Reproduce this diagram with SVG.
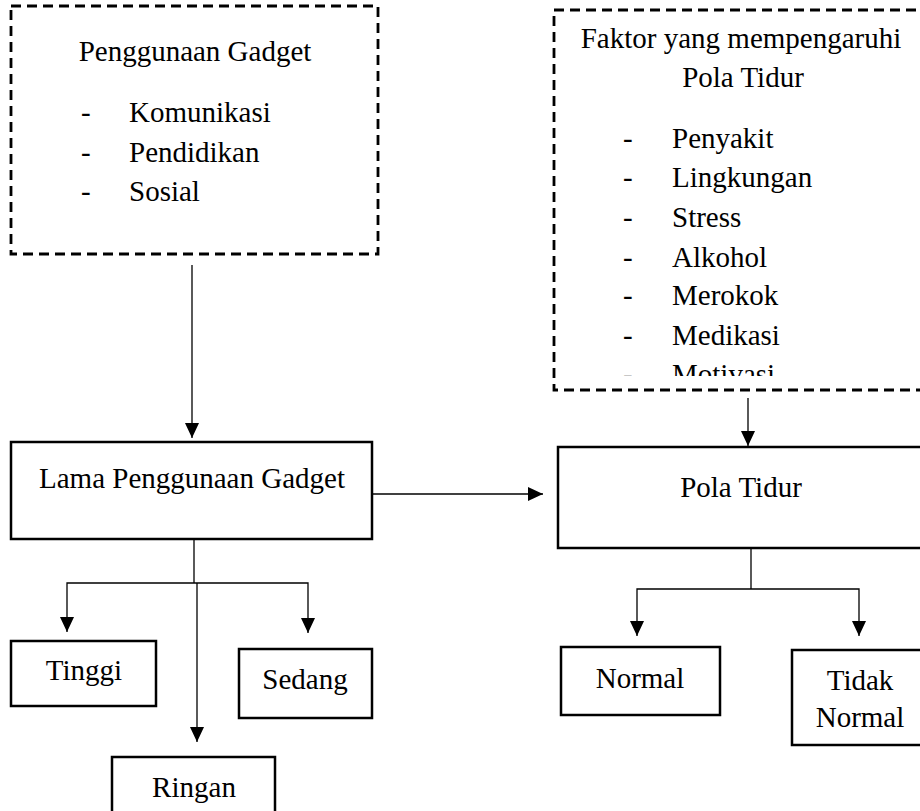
<svg xmlns="http://www.w3.org/2000/svg" width="920" height="811" viewBox="0 0 920 811">
<style>
text{font-family:"Liberation Serif","Times New Roman",serif;font-size:29px;fill:#000}
.c{text-anchor:middle}
.box{fill:#fff;stroke:#000;stroke-width:2.5}
.dash{fill:#fff;stroke:#000;stroke-width:2.8;stroke-dasharray:10 6}
.ln{fill:none;stroke:#000;stroke-width:1.3}
.arr{fill:none;stroke:#000;stroke-width:1.3;marker-end:url(#ah)}
</style>
<defs>
<marker id="ah" viewBox="0 0 15 14" refX="15" refY="7" markerWidth="15" markerHeight="14" markerUnits="userSpaceOnUse" orient="auto">
<path d="M0,0 L15,7 L0,14 z" fill="#000"/>
</marker>
<clipPath id="clipF"><rect x="554" y="10" width="380" height="366"/></clipPath>
</defs>
<rect width="920" height="811" fill="#fff"/>

<g id="penggunaan-gadget">
<rect class="dash" x="11" y="6" width="367" height="248"/>
<text class="c" x="195" y="61">Penggunaan Gadget</text>
<text x="81" y="122">-</text><text x="129" y="122">Komunikasi</text>
<text x="81" y="162">-</text><text x="129" y="162">Pendidikan</text>
<text x="81" y="201">-</text><text x="129" y="201">Sosial</text>
</g>

<g id="faktor">
<rect class="dash" x="554" y="10" width="380" height="380"/>
<text class="c" x="741" y="48">Faktor yang mempengaruhi</text>
<text class="c" x="743" y="87">Pola Tidur</text>
<g clip-path="url(#clipF)">
<text x="623" y="148">-</text><text x="672" y="148">Penyakit</text>
<text x="623" y="187">-</text><text x="672" y="187">Lingkungan</text>
<text x="623" y="227">-</text><text x="672" y="227">Stress</text>
<text x="623" y="267">-</text><text x="672" y="267">Alkohol</text>
<text x="623" y="305">-</text><text x="672" y="305">Merokok</text>
<text x="623" y="345">-</text><text x="672" y="345">Medikasi</text>
<text x="623" y="384">-</text><text x="672" y="384">Motivasi</text>
</g>
</g>

<g id="lama">
<rect class="box" x="11" y="442" width="361" height="97"/>
<text class="c" x="192" y="488">Lama Penggunaan Gadget</text>
</g>

<g id="pola-tidur">
<rect class="box" x="558" y="447" width="380" height="101"/>
<text class="c" x="741" y="497">Pola Tidur</text>
</g>

<g id="tinggi">
<rect class="box" x="11" y="641" width="145" height="65"/>
<text class="c" x="84" y="680">Tinggi</text>
</g>

<g id="sedang">
<rect class="box" x="239" y="649" width="133" height="69"/>
<text class="c" x="305" y="689">Sedang</text>
</g>

<g id="ringan">
<rect class="box" x="112" y="757" width="163" height="70"/>
<text class="c" x="194" y="797">Ringan</text>
</g>

<g id="normal">
<rect class="box" x="561" y="647" width="159" height="68"/>
<text class="c" x="640" y="688">Normal</text>
</g>

<g id="tidak-normal">
<rect class="box" x="792" y="650" width="150" height="95"/>
<text class="c" x="860" y="690">Tidak</text>
<text class="c" x="860" y="727">Normal</text>
</g>

<g id="connectors">
<line class="arr" x1="192" y1="265" x2="192" y2="438"/>
<line class="arr" x1="372" y1="494" x2="543" y2="494"/>
<line class="arr" x1="748" y1="398" x2="748" y2="446"/>
<polyline class="ln" points="194,539 194,583"/>
<polyline class="arr" points="194,583 67,583 67,632"/>
<polyline class="arr" points="194,583 308,583 308,633"/>
<line class="arr" x1="197" y1="583" x2="197" y2="742"/>
<polyline class="ln" points="751,548 751,589"/>
<polyline class="arr" points="751,589 637,589 637,636"/>
<polyline class="arr" points="751,589 859,589 859,636"/>
</g>
</svg>
